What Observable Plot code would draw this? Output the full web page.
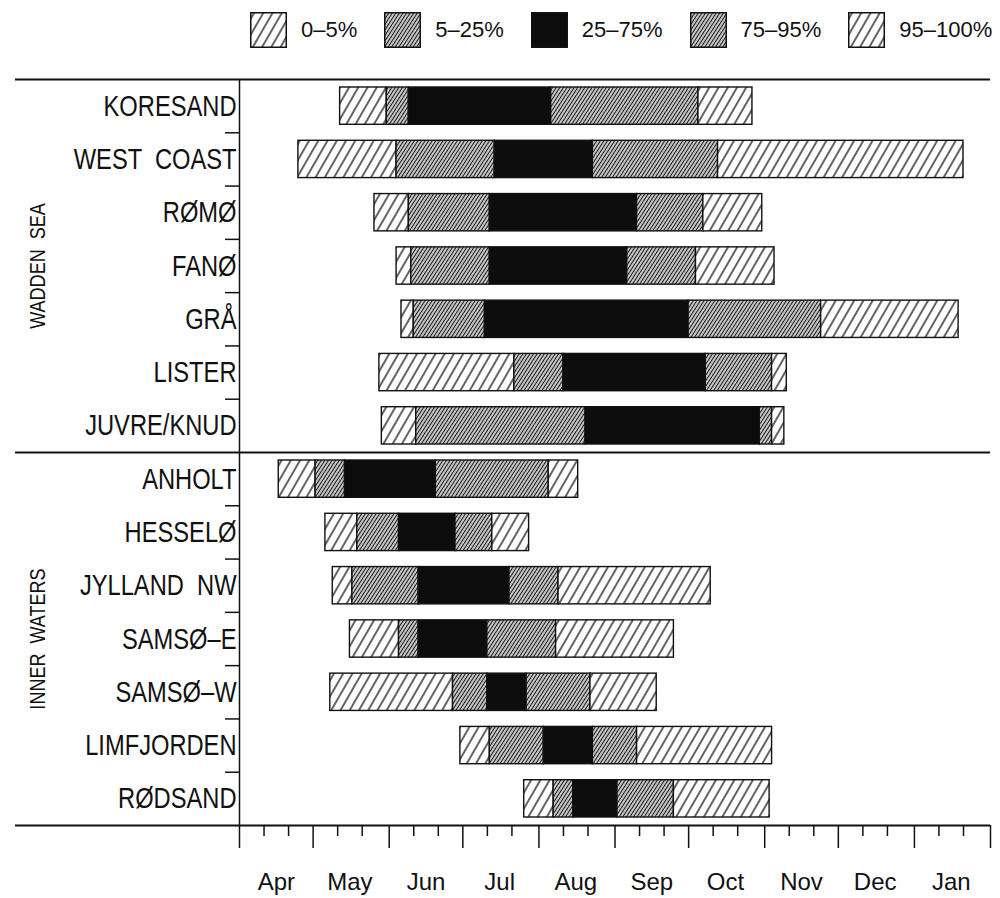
<!DOCTYPE html>
<html>
<head>
<meta charset="utf-8">
<script src="https://cdn.jsdelivr.net/npm/d3@7"></script>
<script src="https://cdn.jsdelivr.net/npm/@observablehq/plot@0.6"></script>
<style>
  html, body { margin: 0; padding: 0; background: #fff; }
  body { width: 1000px; height: 898px; overflow: hidden; color: #111; }
  #legend { height: 60px; display: flex; align-items: center; padding-left: 250px;
            font-family: "Liberation Sans", Arial, sans-serif; font-size: 22px; color: #111; }
  #legend .item { display: flex; align-items: center; margin-right: 27px; }
  #legend .item span { margin-left: 14px; white-space: pre; }
  #legend svg { display: block; }
  #chart svg text { white-space: pre; }
</style>
</head>
<body>
<svg width="0" height="0" style="position:absolute">
  <defs>
    <pattern id="hatch-sparse" patternUnits="userSpaceOnUse" width="8" height="8" patternTransform="rotate(30)">
      <rect width="8" height="8" fill="#fff"></rect>
      <line x1="4" y1="-1" x2="4" y2="9" stroke="#111" stroke-width="1.3"></line>
    </pattern>
    <pattern id="hatch-dense" patternUnits="userSpaceOnUse" width="3" height="3" patternTransform="rotate(33)">
      <rect width="3" height="3" fill="#d9d9d9"></rect>
      <line x1="1.5" y1="-1" x2="1.5" y2="4" stroke="#1a1a1a" stroke-width="1.2"></line>
    </pattern>
  </defs>
</svg>
<div id="legend"></div>
<div id="chart"></div>
<script>
// ---- data ----
const stations = ["KORESAND", "WEST  COAST", "RØMØ", "FANØ", "GRÅ", "LISTER", "JUVRE/KNUD",
                  "ANHOLT", "HESSELØ", "JYLLAND  NW", "SAMSØ–E", "SAMSØ–W", "LIMFJORDEN", "RØDSAND"];
const regionOfStation = ["WADDEN  SEA", "WADDEN  SEA", "WADDEN  SEA", "WADDEN  SEA", "WADDEN  SEA", "WADDEN  SEA", "WADDEN  SEA",
                         "INNER  WATERS", "INNER  WATERS", "INNER  WATERS", "INNER  WATERS", "INNER  WATERS", "INNER  WATERS", "INNER  WATERS"];
const classes = ["0–5%", "5–25%", "25–75%", "75–95%", "95–100%"];
const classFills = ["url(#hatch-sparse)", "url(#hatch-dense)", "#0d0d0d", "url(#hatch-dense)", "url(#hatch-sparse)"];
// dates as MM-DD; January belongs to the following year
const firstDate = ["05-12", "04-25", "05-26", "06-04", "06-06", "05-28", "05-29", "04-17", "05-06", "05-09", "05-16", "05-08", "06-30", "07-26"];
const p5Date    = ["05-31", "06-04", "06-09", "06-10", "06-11", "07-22", "06-12", "05-02", "05-19", "05-17", "06-05", "06-27", "07-12", "08-07"];
const p25Date   = ["06-09", "07-14", "07-12", "07-12", "07-10", "08-11", "08-20", "05-14", "06-05", "06-13", "06-13", "07-11", "08-03", "08-15"];
const p75Date   = ["08-06", "08-23", "09-10", "09-06", "10-01", "10-08", "10-30", "06-20", "06-28", "07-20", "07-11", "07-27", "08-23", "09-02"];
const p95Date   = ["10-05", "10-13", "10-07", "10-04", "11-24", "11-04", "11-04", "08-05", "07-13", "08-09", "08-08", "08-22", "09-10", "09-25"];
const lastDate  = ["10-27", "01-21", "10-31", "11-05", "01-19", "11-10", "11-09", "08-17", "07-28", "10-10", "09-25", "09-18", "11-04", "11-03"];
const axisStart = "04-01";
const axisEnd = "02-01";

// ---- helpers ----
const parseDay = s => {
  const [m, d] = s.split("-").map(Number);
  return new Date(Date.UTC(m < 4 ? 2001 : 2000, m - 1, d));
};
const xStart = parseDay(axisStart), xEnd = parseDay(axisEnd);
const bounds = [firstDate, p5Date, p25Date, p75Date, p95Date, lastDate];

const segments = [];
stations.forEach((s, i) => classes.forEach((c, k) => {
  segments.push({row: i, station: s, cls: c, x1: parseDay(bounds[k][i]), x2: parseDay(bounds[k + 1][i])});
}));

const regions = Array.from(new Set(regionOfStation));
const groups = regions.map(r => {
  const idx = regionOfStation.map((g, i) => g === r ? i : null).filter(v => v !== null);
  return {name: r, mid: d3.mean(idx), first: d3.min(idx), last: d3.max(idx)};
});
const frameLines = [-0.5, ...groups.slice(1).map(g => g.first - 0.5), stations.length - 0.5];
const rowTicks = d3.range(stations.length - 1).map(i => i + 0.5).filter(v => !frameLines.includes(v));

const monthStarts = d3.utcMonth.range(xStart, new Date(+xEnd + 86400000));
const months = d3.utcMonth.range(xStart, xEnd);
const shortTicks = months.flatMap(m => [d3.utcDay.offset(m, 10), d3.utcDay.offset(m, 20)]);
const midMonths = months.map(m => d3.utcDay.offset(m, 15));

// ---- legend ----
const legend = d3.select("#legend");
classes.forEach((c, k) => {
  const item = legend.append("div").attr("class", "item");
  const sw = item.append("svg").attr("width", 37).attr("height", 36);
  sw.append("rect").attr("x", 0.75).attr("y", 0.75).attr("width", 35.5).attr("height", 34.5)
    .attr("fill", classFills[k]).attr("stroke", "#111").attr("stroke-width", 1.5);
  item.append("span").text(c);
});

// ---- chart ----
const regular = "'Liberation Sans', Arial, sans-serif";

const chart = Plot.plot({
  width: 1000,
  height: 838,
  marginLeft: 239,
  marginRight: 10,
  marginTop: 19,
  marginBottom: 73,
  style: {background: "#fff", color: "#111", overflow: "visible"},
  x: {type: "utc", domain: [xStart, xEnd], label: null},
  y: {type: "linear", domain: [-0.5, stations.length - 0.5], reverse: true, label: null},
  color: {type: "ordinal", domain: classes, range: classFills},
  marks: [
    Plot.rectX(segments, {
      x1: "x1", x2: "x2",
      y1: d => d.row - 0.35, y2: d => d.row + 0.35,
      fill: "cls", stroke: "#111", strokeWidth: 1.4
    }),
    Plot.ruleY(frameLines, {stroke: "#111", strokeWidth: 1.8, insetLeft: -224}),
    Plot.ruleX([xStart], {stroke: "#111", strokeWidth: 1.5}),
    Plot.axisY({ticks: rowTicks, tickSize: 14, tickFormat: () => "", strokeWidth: 1.5, label: null}),
    Plot.axisY({ticks: d3.range(stations.length), tickSize: 0, tickPadding: 3,
                tickFormat: i => stations[i], fontSize: 30, fontFamily: regular, label: null}),
    Plot.axisX({ticks: monthStarts, tickSize: 23, tickFormat: () => "", strokeWidth: 1.5, label: null}),
    Plot.axisX({ticks: shortTicks, tickSize: 11, tickFormat: () => "", strokeWidth: 1.5, label: null}),
    Plot.axisX({ticks: midMonths, tickSize: 0, tickPadding: 47, tickFormat: d3.utcFormat("%b"),
                fontSize: 24, fontFamily: regular, label: null}),
    Plot.text(groups, {frameAnchor: "left", textAnchor: "middle", y: "mid", text: "name", rotate: -90, dx: -202,
                       fontSize: 22, fontFamily: regular, fill: "#111"})
  ]
});

// narrow the lettering horizontally (the original uses a condensed plotter font)
function squeeze(names, s) {
  const wanted = new Set(names);
  d3.select(chart).selectAll("text").filter(function() {
    return wanted.has(this.textContent);
  }).each(function() {
    const t = this.getAttribute("transform") || "";
    this.setAttribute("transform", `${t} scale(${s},1)`);
  });
}
squeeze(stations, 0.79);
squeeze(regions, 0.82);

document.getElementById("chart").appendChild(chart);
</script>
</body>
</html>
